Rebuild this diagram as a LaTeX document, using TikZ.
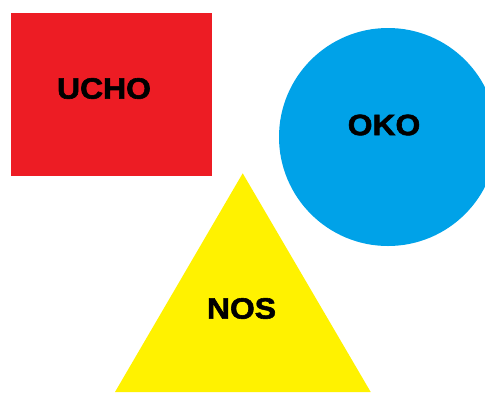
\documentclass[tikz,border=0pt]{standalone}
\usepackage{fontspec}
\newfontfamily\labelfont[FakeStretch=1.08,FakeBold=2]{Liberation Sans Bold}
\definecolor{shapered}{HTML}{ED1C24}
\definecolor{shapeblue}{HTML}{00A2E8}
\definecolor{shapeyellow}{HTML}{FFF200}
\tikzset{
  lbl/.style={font=\labelfont\fontsize{29.5}{34}\selectfont, text=black, inner sep=0pt, anchor=center}
}
\begin{document}
\begin{tikzpicture}[x=1pt,y=-1pt]
\useasboundingbox (0,0) rectangle (485,392);
\fill[white] (0,0) rectangle (485,392);
\begin{scope}
\clip (0,0) rectangle (485,392);
\fill[shapered] (11,13) rectangle (212,176);
\fill[shapeblue] (388,137) circle[radius=109];
\fill[shapeyellow] (242.7,173.3) -- (370.7,392) -- (115,392) -- cycle;
\end{scope}
\node[lbl] (ucho) at (104,88.5) {UCHO};
\node[lbl] (oko) at (384,125) {OKO};
\node[lbl] (nos) at (241.5,308.5) {NOS};
\end{tikzpicture}
\end{document}
